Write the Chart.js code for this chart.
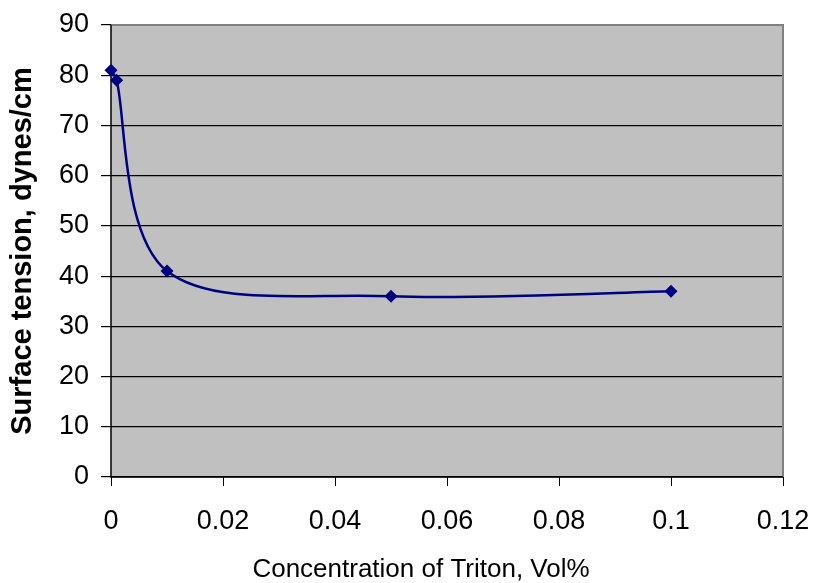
<!DOCTYPE html>
<html>
<head>
<meta charset="utf-8">
<script src="https://cdn.jsdelivr.net/npm/chart.js@4"></script>
<style>
  html, body { margin: 0; padding: 0; background: #fff; }
  #wrap { width: 816px; height: 583px; }
</style>
</head>
<body>
<div id="wrap"><canvas id="tension"></canvas></div>
<script>
// Data
const concentration = [0, 0.001, 0.01, 0.05, 0.1];
const surfaceTension = [81, 79, 41, 36, 37];
const xTicks = [0, 0.02, 0.04, 0.06, 0.08, 0.1, 0.12];
const yTicks = [0, 10, 20, 30, 40, 50, 60, 70, 80, 90];
const xTitle = 'Concentration of Triton, Vol%';

// control handle for the smoothed line, not longer than half the segment
function handle(dx, dy, segLen) {
    let hx = dx / 6, hy = dy / 6;
    const len = Math.hypot(hx, hy);
    const max = segLen / 2;
    if (len > max) { hx *= max / len; hy *= max / len; }
    return [hx, hy];
}

// gray plot area with gray frame, like the old Excel look
const plotBg = {
    id: 'plotBg',
    beforeDraw(chart) {
        const { ctx, chartArea: a } = chart;
        ctx.save();
        ctx.fillStyle = '#c0c0c0';
        ctx.fillRect(a.left, a.top, a.right - a.left, a.bottom - a.top);
        ctx.restore();
    },
    beforeDatasetsDraw(chart) {
        const { ctx, chartArea: a } = chart;
        ctx.save();
        ctx.strokeStyle = '#808080';
        ctx.lineWidth = 2;
        ctx.beginPath();
        ctx.moveTo(a.left, a.top);
        ctx.lineTo(a.right, a.top);
        ctx.lineTo(a.right, a.bottom);
        ctx.stroke();
        ctx.strokeStyle = '#000';
        ctx.lineWidth = 1.5;
        ctx.beginPath();
        ctx.moveTo(a.left, a.top);
        ctx.lineTo(a.left, a.bottom);
        ctx.lineTo(a.right, a.bottom);
        ctx.stroke();

        // smoothed line (Excel style) through the points placed by the scales
        const pts = chart.getDatasetMeta(0).data;
        ctx.strokeStyle = '#000080';
        ctx.lineWidth = 2.5;
        ctx.lineJoin = 'round';
        ctx.beginPath();
        ctx.moveTo(pts[0].x, pts[0].y);
        for (let i = 0; i < pts.length - 1; i++) {
            const p0 = pts[Math.max(i - 1, 0)];
            const p1 = pts[i];
            const p2 = pts[i + 1];
            const p3 = pts[Math.min(i + 2, pts.length - 1)];
            const seg = Math.hypot(p2.x - p1.x, p2.y - p1.y);
            const h1 = handle(p2.x - p0.x, p2.y - p0.y, seg);
            const h2 = handle(p3.x - p1.x, p3.y - p1.y, seg);
            ctx.bezierCurveTo(p1.x + h1[0], p1.y + h1[1], p2.x - h2[0], p2.y - h2[1], p2.x, p2.y);
        }
        ctx.stroke();
        ctx.restore();
    },
    afterDraw(chart) {
        const { ctx, chartArea: a } = chart;
        ctx.save();
        ctx.fillStyle = '#000';
        ctx.font = '26px "Liberation Sans"';
        ctx.textAlign = 'center';
        ctx.textBaseline = 'alphabetic';
        ctx.fillText(xTitle, (a.left + a.right) / 2 - 26, 577);
        ctx.restore();
    }
};

const config = {
    type: 'scatter',
    data: {
        datasets: [{
            data: concentration.map((c, i) => ({ x: c, y: surfaceTension[i] })),
            showLine: false,
            clip: false,
            borderColor: '#000080',
            backgroundColor: '#000080',
            pointStyle: 'rectRot',
            pointRadius: 6.5,
            pointBorderWidth: 0
        }]
    },
    options: {
        responsive: false,
        animation: false,
        layout: { padding: { top: 25, right: 33, left: 0, bottom: 0 } },
        plugins: {
            legend: { display: false },
            tooltip: { enabled: false }
        },
        scales: {
            x: {
                type: 'linear',
                min: 0,
                max: 0.12,
                afterBuildTicks: s => { s.ticks = xTicks.map(v => ({ value: v })); },
                afterFit: s => { s.height = 106; s.paddingLeft = 0; s.paddingRight = 0; },
                grid: { display: true, drawOnChartArea: false, color: '#000', tickLength: 9, tickWidth: 1 },
                border: { display: false },
                ticks: {
                    color: '#000',
                    padding: 19,
                    font: { family: 'Liberation Sans', size: 27 },
                    callback: v => String(v)
                }
            },
            y: {
                min: 0,
                max: 90,
                afterBuildTicks: s => { s.ticks = yTicks.map(v => ({ value: v })); },
                afterFit: s => { s.width = 111; s.paddingTop = 0; s.paddingBottom = 0; },
                grid: { color: '#000', lineWidth: 1.2, tickLength: 10 },
                border: { display: false },
                ticks: {
                    color: '#000',
                    padding: 12,
                    font: { family: 'Liberation Sans', size: 27 }
                },
                title: {
                    display: true,
                    text: 'Surface tension, dynes/cm',
                    color: '#000',
                    font: { family: 'Liberation Sans', size: 29, weight: 'bold' },
                    padding: { top: 6, bottom: 0 }
                }
            }
        }
    },
    plugins: [plotBg]
};

const canvas = document.getElementById('tension');
canvas.width = 816;
canvas.height = 583;
new Chart(canvas, config);
</script>
</body>
</html>
